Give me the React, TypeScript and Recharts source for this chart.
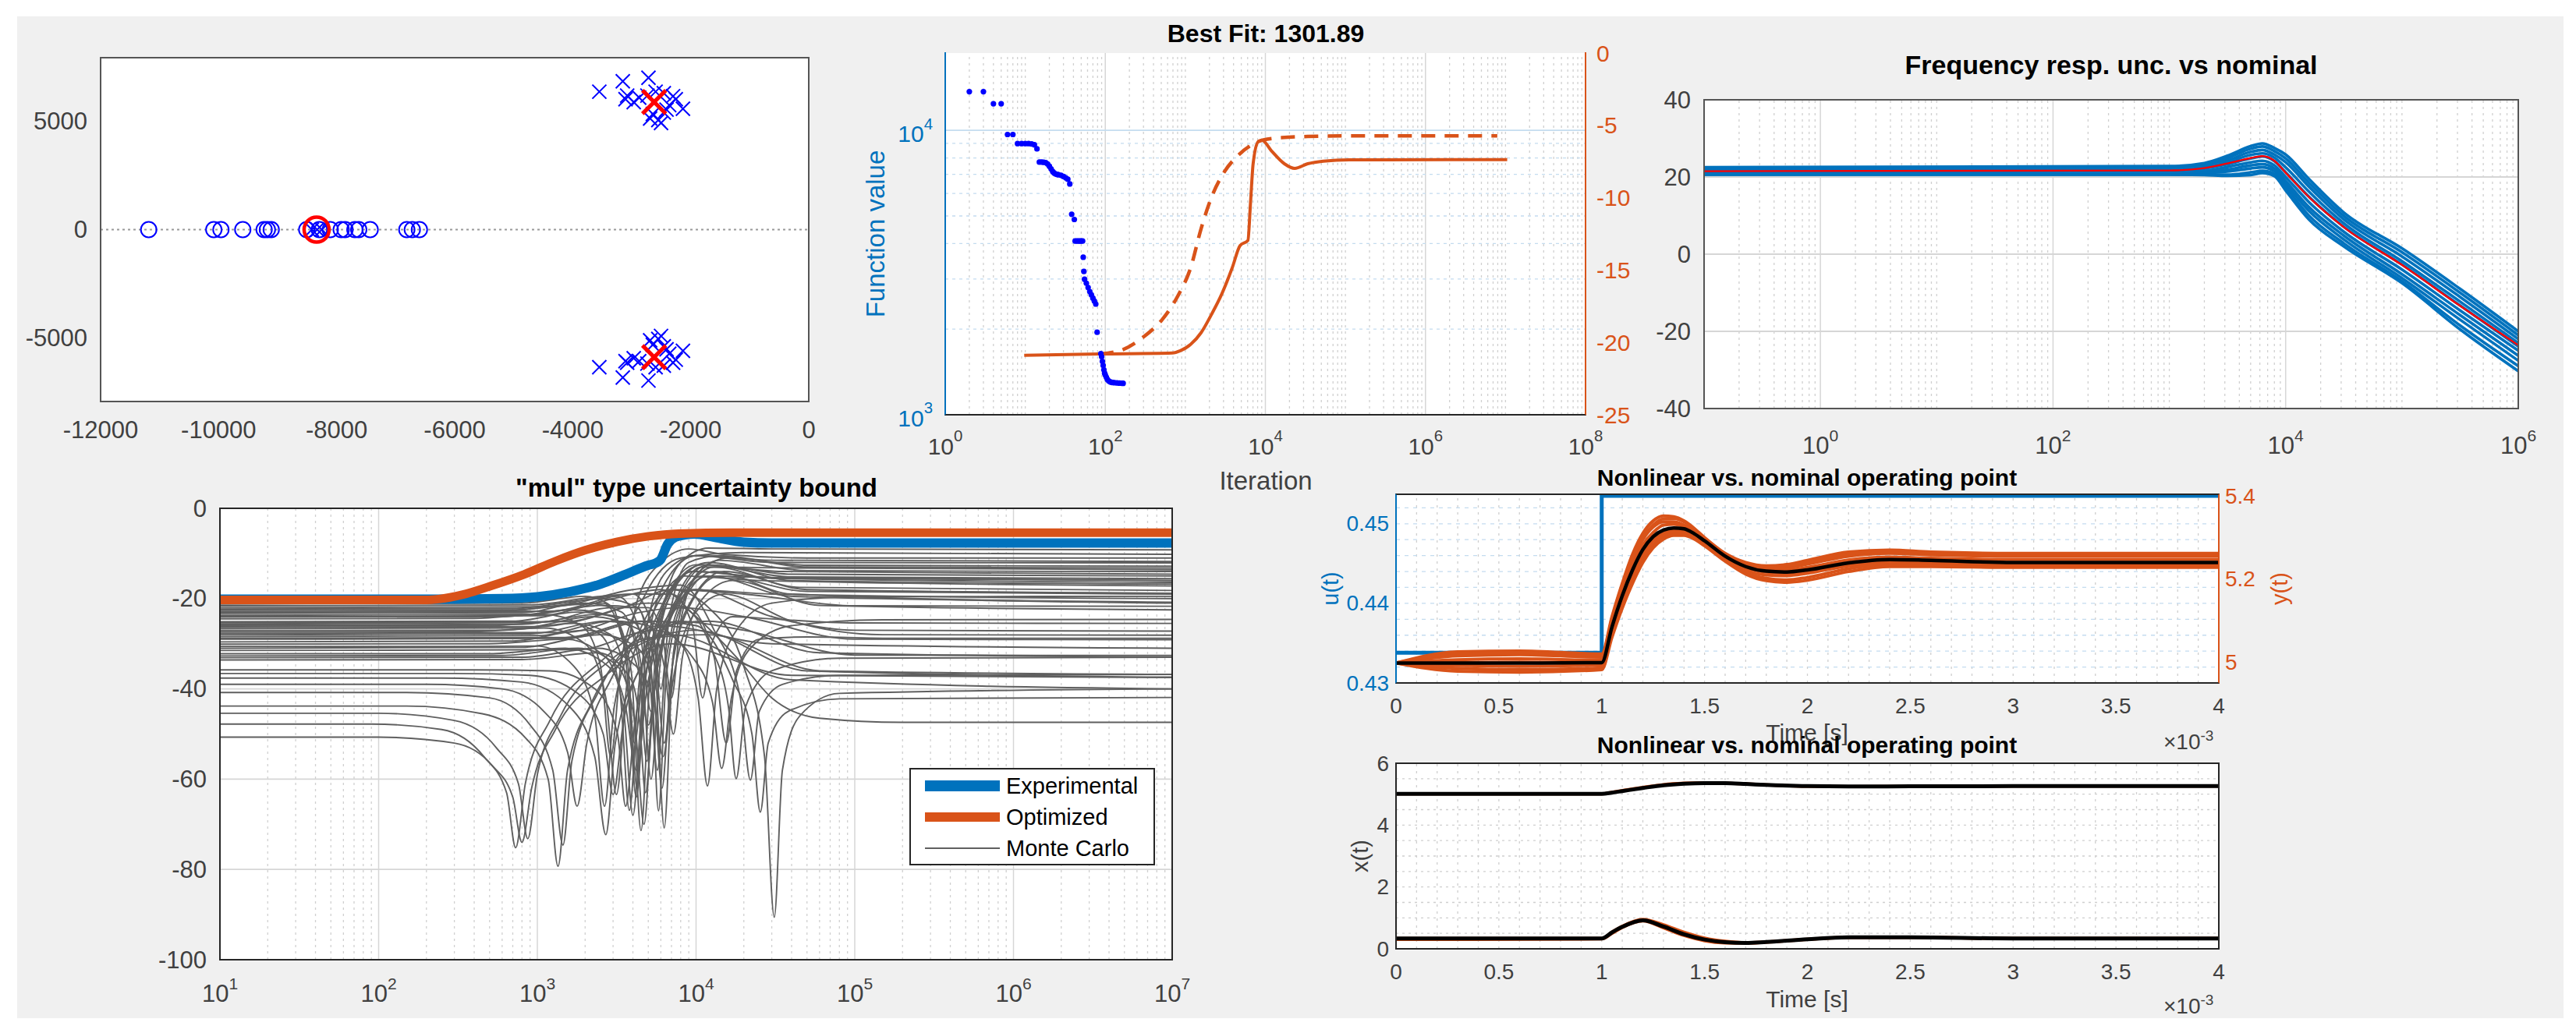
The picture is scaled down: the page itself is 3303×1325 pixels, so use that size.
import React from 'react';
import { ComposedChart, Line, Scatter, XAxis, YAxis, ReferenceLine } from 'recharts';

const FONT = '"Liberation Sans", Arial, Helvetica, sans-serif';
const MBLUE = '#0072BD';
const MORANGE = '#D95319';
const AXC = '#404040';
const GMAJ = '#d6d6d6';
const GMIN = '#d0d0d0';
const GBLUE = '#c4dcef';
const MCGRAY = '#5f5f5f';

// ================= Panel 1: pole / zero map =================
const pzZeroRe = [-11185, -10082, -9961, -9591, -9229, -9174, -9109, -8507, -8294, -8108, -7923, -7858, -7691, -7626, -7432, -6811, -6718, -6598];
const pzRealPoles = [-8420, -8330, -8250];
const pzPolesUpper = [
  [-3549, 6376], [-3151, 6858], [-2716, 7023], [-3077, 6197], [-2966, 5894], [-3105, 6032], [-2734, 6197],
  [-2688, 5137], [-2549, 5068], [-2503, 4930], [-2456, 5412], [-2364, 5756], [-2299, 6169], [-2132, 5591],
  [-2456, 6307], [-2595, 6376], [-2410, 5549], [-2873, 6100], [-2642, 5343], [-2253, 6031],
];
const pzPolesLower = [
  [-3549, -6362], [-3151, -6844], [-2716, -6981], [-3077, -6155], [-2966, -5949], [-3105, -6086], [-2734, -6197],
  [-2688, -5122], [-2549, -5054], [-2503, -4916], [-2456, -5398], [-2364, -5742], [-2299, -6155], [-2132, -5604],
  [-2456, -6293], [-2595, -6362], [-2410, -5535], [-2873, -6086], [-2642, -5329], [-2253, -6018],
];
const pzNominalPoles = [[-2620, 5900], [-2620, -5900]];
const pzNominalZero = [[-8340, 0]];
const pzXTicks = [-12000, -10000, -8000, -6000, -4000, -2000, 0];
const pzYTicks = [-5000, 0, 5000];

// ================= Panel 2: Best fit =================
const fitDots = [
  [2, 13680], [3, 13680], [4, 12400], [5, 12400], [6, 9670], [7, 9670], [8, 8980], [9, 8980], [10, 8980], [11, 8980],
  [12, 8960], [13, 8900], [14, 8610], [15, 7730], [16, 7730], [17, 7720], [18, 7700], [19, 7620], [20, 7480], [21, 7320],
  [22, 7170], [23, 7080], [24, 7020], [25, 7000], [26, 6980], [28, 6950], [30, 6880], [32, 6810], [34, 6730], [36, 6480],
  [38, 5070], [41, 4860], [42, 4080], [44, 4080], [46, 4080], [48, 4080], [50, 4080], [52, 4080], [53, 3580], [54, 3190],
  [55, 2995], [58, 2900], [61, 2800], [64, 2710], [67, 2640], [70, 2570], [73, 2510], [76, 2450], [79, 1950], [88, 1640],
  [90, 1600], [92, 1540], [94, 1490], [96, 1440], [98, 1400], [100, 1380], [103, 1355], [106, 1331], [110, 1315], [115, 1305],
  [120, 1300], [124, 1298], [130, 1296], [140, 1294], [150, 1292], [160, 1291], [167, 1290],
];
const fitSolid = [
  [9.7, -20.89], [85, -20.8], [690, -20.73], [865, -20.58], [1170, -20.13], [1573, -19.33], [2120, -18.07], [2865, -16.63],
  [3860, -14.83], [4830, -13.31], [6050, -12.95], [6520, -10.35], [7030, -7.65], [8160, -6.12], [9120, -6.03], [11860, -6.75],
  [17250, -7.65], [23240, -7.97], [33800, -7.65], [53000, -7.47], [112000, -7.38], [1.05e7, -7.37],
];
const fitDashed = [
  [85, -20.8], [167, -20.49], [303, -19.6], [512, -18.43], [802, -16.81], [1167, -14.83], [1573, -12.14], [2120, -9.98],
  [3090, -8.19], [4490, -7.11], [6520, -6.4], [9480, -6.0], [16000, -5.85], [33800, -5.77], [112000, -5.73], [7.9e6, -5.73],
];
const fitXTicks = [1, 100, 1e4, 1e6, 1e8];
const fitYLTicks = [1000, 10000];
const fitYRTicks = [-25, -20, -15, -10, -5, 0];

// ================= Panel 3: Frequency response =================
const frFreq = [0.1, 1000, 2000, 3160, 5000, 6300, 8000, 10000, 15850, 31620, 1e5, 3.162e5, 1e6];
const frNominal = [21.5, 21.7, 22.3, 23.5, 24.9, 25.4, 24.2, 21.1, 14.8, 7.0, -2.8, -13.4, -23.6];
const frSamples = [
  [22.5, 22.8, 23.6, 25.5, 28.0, 28.7, 27.5, 25.8, 19.5, 10.8, 1.5, -9.0, -20.0],
  [22.2, 22.5, 23.2, 24.9, 27.3, 27.9, 26.7, 24.8, 18.5, 9.9, 0.5, -10.0, -21.0],
  [22.0, 22.2, 22.8, 24.3, 26.5, 27.0, 25.8, 23.8, 17.5, 9.0, -0.6, -11.1, -22.0],
  [21.8, 22.0, 22.5, 23.8, 25.7, 26.1, 25.0, 22.5, 16.2, 8.0, -1.8, -12.3, -23.0],
  [21.5, 21.7, 22.2, 23.3, 24.8, 25.3, 24.1, 21.2, 14.9, 7.1, -2.7, -13.3, -23.9],
  [21.3, 21.4, 21.6, 22.6, 23.8, 24.2, 23.0, 20.0, 13.5, 5.8, -4.0, -14.6, -25.0],
  [21.0, 21.1, 21.3, 21.9, 23.0, 23.3, 22.2, 19.0, 12.2, 4.8, -5.2, -15.8, -26.3],
  [20.8, 20.9, 21.0, 21.4, 22.2, 22.5, 21.5, 18.2, 11.2, 3.8, -6.2, -17.0, -27.6],
  [20.6, 20.6, 20.6, 20.6, 21.2, 21.6, 20.8, 17.4, 10.0, 2.8, -7.0, -18.5, -29.0],
  [20.6, 20.6, 20.5, 20.3, 20.5, 21.0, 20.2, 16.5, 9.0, 2.0, -7.5, -19.5, -30.3],
];
const frXTicks = [1, 100, 1e4, 1e6];
const frYTicks = [-40, -20, 0, 20, 40];

// ================= Panel 4: "mul" uncertainty bound =================
const mulExperimental = [
  [10, -20.1], [300, -20.1], [600, -20.0], [1000, -19.6], [1600, -18.5], [2500, -16.8], [3500, -14.8], [5000, -12.6],
  [5600, -12.1], [6000, -11.3], [6600, -8.0], [7400, -6.4], [8500, -5.9], [9800, -5.7], [13000, -6.4], [20000, -7.5],
  [30000, -7.7], [1e7, -7.7],
];
const mulOptimized = [
  [10, -20.3], [200, -20.3], [240, -20.1], [340, -19.1], [520, -17.1], [830, -14.6], [1300, -11.7], [2000, -9.3],
  [3200, -7.4], [5000, -6.2], [7800, -5.6], [17000, -5.4], [1e7, -5.4],
];
const mulMonteCarlo = [
  [[10, -21.2], [800, -21.0], [2000, -19.5], [3000, -22], [3600, -30], [4300, -20], [6000, -12], [9000, -9], [15000, -10.2], [50000, -11], [1e7, -11]],
  [[10, -22.3], [700, -22.2], [1800, -20.5], [3200, -19.5], [4400, -27], [5200, -45], [6000, -25], [8000, -12], [12000, -8.8], [30000, -9], [1e7, -9.2]],
  [[10, -22.9], [600, -22.8], [1500, -21.5], [2600, -21], [3500, -30], [4100, -52], [4800, -28], [6500, -14], [10000, -10.5], [30000, -12], [1e7, -12.1]],
  [[10, -23.7], [900, -23.5], [2500, -21.5], [4200, -22], [5500, -35], [6300, -70.8], [7200, -32], [9500, -16], [14000, -11.5], [50000, -13.8], [1e7, -14]],
  [[10, -24.5], [400, -24.4], [1100, -23.5], [1900, -26], [2500, -35], [2900, -55], [3400, -33], [4800, -19], [8000, -11], [20000, -9.8], [1e7, -10.2]],
  [[10, -25.1], [700, -25], [1800, -23], [3000, -24], [3900, -36], [4500, -71.4], [5200, -34], [7000, -18], [11000, -12.5], [40000, -15.2], [1e7, -15.6]],
  [[10, -25.6], [1000, -25.3], [3000, -22], [5000, -22], [6200, -29], [7000, -42], [8000, -25], [10500, -14], [16000, -11], [50000, -12.6], [1e7, -12.8]],
  [[10, -26.1], [500, -26], [1400, -25], [2500, -28], [3300, -40], [3800, -66.9], [4400, -38], [6000, -22], [9500, -14], [30000, -15.5], [1e7, -16.4]],
  [[10, -26.7], [800, -26.5], [2200, -24], [3800, -26], [4600, -37], [5200, -60], [6000, -33], [8000, -19], [12000, -12.5], [40000, -14.6], [1e7, -15]],
  [[10, -27.4], [400, -27.3], [1100, -26.5], [2000, -30], [2700, -42], [3150, -63.4], [3700, -38], [5200, -24], [8500, -15], [25000, -16], [1e7, -17.2]],
  [[10, -28], [900, -27.8], [2700, -25], [4500, -27], [5600, -36], [6300, -52], [7200, -33], [9500, -20], [15000, -14], [50000, -18], [1e7, -18.8]],
  [[10, -28.8], [1500, -28.6], [4500, -25], [8000, -30], [10300, -42], [11800, -61.5], [13500, -40], [18000, -27], [30000, -21], [1e5, -19.6], [1e7, -19.5]],
  [[10, -29.6], [700, -29.4], [2000, -27], [3600, -30], [4400, -37], [5000, -48], [5800, -33], [7800, -21], [12000, -15], [40000, -19.5], [1e7, -20.8]],
  [[10, -30.6], [350, -30.6], [1000, -30.5], [1700, -35], [2300, -46], [2650, -66], [3050, -44], [4300, -28], [7000, -18], [20000, -19], [1e5, -21.6], [1e7, -21.7]],
  [[10, -31.5], [1800, -31.3], [5500, -27], [9500, -33], [12700, -43], [14500, -57.6], [16700, -42], [22000, -31], [40000, -26], [1.5e5, -24.7], [1e7, -24.6]],
  [[10, -32.2], [500, -32.2], [1500, -31], [2800, -35], [3600, -44], [4200, -58], [4900, -40], [6600, -25], [10000, -18], [30000, -24], [1e5, -27], [1e7, -27.2]],
  [[10, -33.1], [800, -33], [2400, -31], [4200, -35], [5400, -43], [6200, -55], [7100, -39], [9500, -24], [15000, -19], [40000, -25], [1.5e5, -28], [1e7, -28.1]],
  [[10, -36.6], [300, -36.6], [900, -37], [1800, -41], [2600, -50], [3000, -63.4], [3500, -47], [5000, -32], [8000, -22], [20000, -24], [1e5, -29], [1e7, -29.1]],
  [[10, -37.6], [250, -37.6], [800, -38.5], [1600, -44], [2300, -55], [2700, -72.3], [3100, -52], [4500, -35], [7500, -25], [20000, -27], [1e5, -32.5], [1e7, -32.6]],
  [[10, -39], [200, -39], [600, -40], [1100, -45], [1550, -54], [1780, -66], [2050, -52], [2900, -38], [5000, -27], [12000, -25], [60000, -32], [1e7, -33]],
  [[10, -40.8], [150, -40.8], [500, -42], [900, -48], [1250, -58], [1450, -74.6], [1650, -56], [2400, -41], [4500, -29], [12000, -28], [60000, -36], [1e7, -36.8]],
  [[10, -43.8], [150, -43.8], [450, -45.5], [850, -51], [1170, -60], [1350, -79.3], [1550, -58], [2200, -43], [4000, -31], [10000, -27], [50000, -36], [1e7, -37.4]],
  [[10, -45.4], [100, -45.4], [300, -47], [550, -53], [760, -61], [870, -73.2], [1000, -59], [1400, -46], [2800, -34], [7000, -28], [40000, -38], [1e7, -40]],
  [[10, -47.8], [90, -47.8], [250, -49], [460, -55], [640, -63], [730, -75.2], [840, -61], [1200, -47], [2500, -34], [6000, -26], [30000, -30], [1e7, -31]],
  [[10, -50.7], [100, -50.7], [300, -52], [520, -57], [700, -64], [800, -74], [920, -62], [1300, -49], [2700, -37], [7000, -30], [40000, -37], [1e7, -37.5]],
  [[10, -26.4], [1000, -26.2], [3500, -22], [7000, -18], [12000, -22], [20000, -35], [27000, -55], [31100, -90.6], [35000, -58], [45000, -46], [80000, -41], [1e7, -40]],
  [[10, -24], [1000, -23.8], [3000, -20], [6000, -18], [10000, -24], [18000, -33], [30000, -42], [60000, -46.5], [2e5, -47.4], [1e7, -47.4]],
  [[10, -29], [1500, -28.8], [5000, -25], [10000, -26], [17000, -38], [22500, -50], [25400, -67.3], [28500, -52], [38000, -45], [80000, -42.2], [1e7, -41.9]],
  [[10, -22], [1200, -21.8], [4000, -18], [8000, -17], [13000, -27], [19000, -42], [22000, -60.2], [25000, -45], [35000, -39], [80000, -37], [1e7, -36.8]],
  [[10, -27.7], [1500, -27.5], [4500, -23], [8000, -22], [12500, -31], [16000, -44], [17900, -59.9], [20500, -44], [30000, -36], [80000, -33.2], [1e7, -33]],
  [[10, -33.6], [800, -33.5], [2400, -32], [3900, -38], [4400, -47], [4800, -63], [5400, -42], [7000, -24], [11000, -15], [40000, -15.5], [1e7, -16]],
  [[10, -23.3], [800, -23.1], [2500, -20], [4300, -22], [5200, -35], [5800, -67], [6500, -37], [8500, -20], [13000, -14], [40000, -19], [1e7, -21]],
  [[10, -21.6], [900, -21.4], [2500, -19.5], [4000, -19], [5300, -26], [6000, -40], [6800, -24], [9000, -12], [14000, -10.5], [50000, -13], [1e7, -13.2]],
  [[10, -22.6], [700, -22.5], [2000, -21], [3400, -23], [4300, -33], [4900, -56], [5600, -32], [7500, -17], [12000, -12], [40000, -16], [1e7, -16.8]],
  [[10, -24.1], [600, -24], [1700, -22.5], [3000, -24], [3700, -34], [4250, -62], [4800, -33], [6500, -16], [10000, -10.5], [30000, -11.5], [1e7, -11.8]],
  [[10, -25.9], [800, -25.7], [2400, -23.5], [4000, -25], [5000, -34], [5700, -58], [6400, -35], [8500, -19], [13000, -13], [45000, -17.5], [1e7, -18.2]],
  [[10, -27.1], [600, -27], [1700, -25.5], [2900, -28], [3700, -40], [4200, -64], [4800, -38], [6500, -20], [10000, -12.5], [35000, -14], [1e7, -14.6]],
  [[10, -28.4], [1000, -28.2], [3000, -25], [5000, -26], [6300, -35], [7200, -50], [8200, -33], [11000, -20], [17000, -16], [60000, -21.5], [1e7, -22.5]],
  [[10, -30.1], [500, -30], [1500, -29], [2700, -33], [3500, -45], [4000, -68], [4600, -42], [6200, -23], [9500, -14], [30000, -15.3], [1e7, -16]],
  [[10, -31], [800, -30.8], [2500, -28], [4300, -31], [5400, -40], [6100, -62], [6900, -38], [9000, -22], [14000, -15], [50000, -18.4], [1e7, -19]],
  [[10, -32.7], [600, -32.6], [1800, -31], [3200, -35], [4100, -47], [4700, -70], [5300, -45], [7000, -23], [11000, -13], [35000, -13.2], [1e7, -13.6]],
  [[10, -23], [1200, -22.8], [4000, -19], [7000, -19], [9500, -26], [11000, -42], [12500, -30], [17000, -24], [30000, -24.5], [1e5, -25.4], [1e7, -25.5]],
  [[10, -25.3], [1500, -25.1], [5000, -21], [9000, -22], [13000, -33], [15500, -52], [18000, -36], [25000, -29], [50000, -28.5], [2e5, -28.8], [1e7, -28.8]],
  [[10, -35.8], [400, -35.8], [1200, -36], [2300, -40], [3200, -50], [3600, -66], [4100, -48], [5800, -29], [9000, -18], [30000, -19], [1e7, -20]],
];
const mulXTicks = [10, 100, 1000, 1e4, 1e5, 1e6, 1e7];
const mulYTicks = [-100, -80, -60, -40, -20, 0];

// ================= Panel 5: u(t), y(t) =================
const uSignal = [[0, 0.4338], [1, 0.4338], [1, 0.4535], [4, 0.4535]];
const yTime = [0, 0.3, 0.6, 1.0, 1.05, 1.1, 1.15, 1.2, 1.25, 1.3, 1.35, 1.4, 1.45, 1.5, 1.6, 1.7, 1.8, 1.9, 2.0, 2.2, 2.4, 2.6, 3.0, 3.5, 4.0];
const yNominal = [4.998, 4.998, 4.998, 4.999, 5.085, 5.16, 5.222, 5.271, 5.302, 5.318, 5.323, 5.321, 5.309, 5.292, 5.255, 5.23, 5.219, 5.217, 5.222, 5.239, 5.247, 5.245, 5.24, 5.24, 5.24];
const ySamples = [
  [4.998, 5.025, 5.027, 5.02, 5.11, 5.19, 5.26, 5.31, 5.34, 5.352, 5.35, 5.34, 5.322, 5.30, 5.262, 5.24, 5.232, 5.235, 5.245, 5.265, 5.27, 5.265, 5.262, 5.262, 5.262],
  [4.998, 5.015, 5.018, 5.012, 5.10, 5.18, 5.245, 5.295, 5.325, 5.338, 5.338, 5.33, 5.315, 5.295, 5.258, 5.236, 5.228, 5.228, 5.236, 5.255, 5.262, 5.258, 5.255, 5.255, 5.255],
  [4.998, 5.006, 5.008, 5.005, 5.09, 5.17, 5.232, 5.282, 5.312, 5.33, 5.332, 5.327, 5.313, 5.294, 5.256, 5.232, 5.222, 5.222, 5.228, 5.246, 5.253, 5.25, 5.247, 5.247, 5.247],
  [4.998, 4.992, 4.99, 4.993, 5.08, 5.15, 5.21, 5.26, 5.292, 5.31, 5.316, 5.314, 5.303, 5.286, 5.248, 5.222, 5.21, 5.208, 5.214, 5.232, 5.24, 5.238, 5.234, 5.234, 5.234],
  [4.998, 4.985, 4.982, 4.986, 5.07, 5.14, 5.2, 5.25, 5.283, 5.303, 5.31, 5.309, 5.299, 5.283, 5.245, 5.216, 5.202, 5.198, 5.204, 5.225, 5.235, 5.234, 5.23, 5.23, 5.23],
  [4.998, 4.978, 4.976, 4.982, 5.06, 5.13, 5.19, 5.24, 5.275, 5.296, 5.305, 5.305, 5.296, 5.28, 5.243, 5.212, 5.196, 5.192, 5.197, 5.218, 5.23, 5.23, 5.228, 5.228, 5.228],
  [4.998, 5.02, 5.022, 5.016, 5.105, 5.185, 5.25, 5.3, 5.33, 5.345, 5.346, 5.338, 5.32, 5.298, 5.26, 5.238, 5.23, 5.232, 5.24, 5.26, 5.266, 5.262, 5.258, 5.258, 5.258],
  [4.998, 4.999, 5.0, 4.998, 5.083, 5.158, 5.22, 5.268, 5.3, 5.317, 5.32, 5.318, 5.307, 5.29, 5.253, 5.228, 5.217, 5.214, 5.219, 5.236, 5.244, 5.242, 5.237, 5.237, 5.237],
];
const timeTicks = [0, 0.5, 1, 1.5, 2, 2.5, 3, 3.5, 4];
const uTicks = [0.43, 0.44, 0.45];
const yTicks = [5, 5.2, 5.4];

// ================= Panel 6: x(t) =================
const xTime = [0, 1.0, 1.05, 1.1, 1.2, 1.3, 1.4, 1.5, 1.6, 1.7, 1.8, 2.0, 2.2, 2.5, 3.0, 4.0];
const x1Nominal = [5.01, 5.01, 5.05, 5.1, 5.2, 5.29, 5.34, 5.36, 5.355, 5.33, 5.3, 5.26, 5.25, 5.255, 5.26, 5.26];
const x2Nominal = [0.334, 0.334, 0.53, 0.71, 0.92, 0.72, 0.47, 0.3, 0.215, 0.19, 0.222, 0.31, 0.37, 0.37, 0.335, 0.334];
const xSamples = [
  [0.334, 0.334, 0.54, 0.73, 0.95, 0.78, 0.54, 0.35, 0.245, 0.2, 0.225, 0.31, 0.372, 0.37, 0.336, 0.334],
  [0.3, 0.32, 0.5, 0.69, 0.9, 0.68, 0.43, 0.26, 0.19, 0.18, 0.215, 0.305, 0.365, 0.37, 0.335, 0.334],
  [5.01, 5.01, 5.06, 5.12, 5.22, 5.31, 5.355, 5.37, 5.36, 5.335, 5.3, 5.255, 5.245, 5.25, 5.26, 5.26],
];
const xTicks6 = [0, 2, 4, 6];

// ================= helpers =================
const toXY = (pairs: number[][]) => pairs.map(([x, y]) => ({ x, y }));
const zip = (xs: number[], ys: number[]) => xs.map((x, i) => ({ x, y: ys[i] }));
const logMinor = (k0: number, k1: number) => {
  const out: number[] = [];
  for (let k = k0; k < k1; k++) for (let m = 2; m <= 9; m++) out.push(m * Math.pow(10, k));
  return out;
};
const steps = (a: number, b: number, s: number) => {
  const out: number[] = [];
  for (let i = 0; a + i * s <= b + 1e-9; i++) out.push(+(a + i * s).toFixed(6));
  return out;
};

const xNumTick = (dist: number, size: number, color: string) => (p: any) => (
  <text x={p.x} y={p.y + dist} textAnchor="middle" dominantBaseline="central" fontSize={size} fill={color} fontFamily={FONT}>
    {String(p.payload.value)}
  </text>
);
const xPowTick = (dist: number, size: number, color: string) => (p: any) => {
  const e = Math.round(Math.log10(p.payload.value));
  return (
    <text x={p.x} y={p.y + dist} textAnchor="middle" dominantBaseline="central" fontSize={size} fill={color} fontFamily={FONT}>
      10<tspan dy={-size * 0.42} fontSize={size * 0.68}>{e}</tspan>
    </text>
  );
};
const yNumTickL = (gap: number, size: number, color: string) => (p: any) => (
  <text x={p.x - gap} y={p.y} textAnchor="end" dominantBaseline="central" fontSize={size} fill={color} fontFamily={FONT}>
    {String(p.payload.value)}
  </text>
);
const yNumTickR = (gap: number, size: number, color: string) => (p: any) => (
  <text x={p.x + gap} y={p.y} textAnchor="start" dominantBaseline="central" fontSize={size} fill={color} fontFamily={FONT}>
    {String(p.payload.value)}
  </text>
);
const yPowTickL = (gap: number, size: number, color: string) => (p: any) => {
  const e = Math.round(Math.log10(p.payload.value));
  return (
    <text x={p.x - gap} y={p.y + 4} textAnchor="end" dominantBaseline="central" fontSize={size} fill={color} fontFamily={FONT}>
      10<tspan dy={-size * 0.42} fontSize={size * 0.68}>{e}</tspan>
    </text>
  );
};

const circleShape = (r: number, color: string, sw: number, filled = false) => (p: any) => (
  <circle cx={p.cx} cy={p.cy} r={r} fill={filled ? color : 'none'} stroke={color} strokeWidth={sw} />
);
const crossShape = (h: number, color: string, sw: number) => (p: any) => (
  <path d={`M${p.cx - h},${p.cy - h}L${p.cx + h},${p.cy + h}M${p.cx - h},${p.cy + h}L${p.cx + h},${p.cy - h}`} stroke={color} strokeWidth={sw} fill="none" />
);

type Box = { x0: number; y0: number; x1: number; y1: number };
const B1: Box = { x0: 129, y0: 74, x1: 1037, y1: 515 };
const B2: Box = { x0: 1212, y0: 68, x1: 2033, y1: 532 };
const B3: Box = { x0: 2185, y0: 128, x1: 3229, y1: 524 };
const B4: Box = { x0: 282, y0: 652, x1: 1503, y1: 1231 };
const B5: Box = { x0: 1790, y0: 634, x1: 2845, y1: 876 };
const B6: Box = { x0: 1790, y0: 979, x1: 2845, y1: 1217 };

const PT = 25;
const wrap = (b: Box, padL: number): React.CSSProperties => ({ position: 'absolute', left: b.x0 - padL, top: b.y0 - PT });
const W = (b: Box) => b.x1 - b.x0;
const H = (b: Box) => b.y1 - b.y0;

const Txt = ({ x, y, size, bold, color = '#000', rotate, children }: any) => (
  <div
    style={{
      position: 'absolute', left: x, top: y, transform: `translate(-50%,-50%)${rotate ? ` rotate(${rotate}deg)` : ''}`,
      fontSize: size, fontWeight: bold ? 700 : 400, color, fontFamily: FONT, whiteSpace: 'nowrap', lineHeight: 1,
    }}
  >
    {children}
  </div>
);

const axisCommon = { tickLine: false, axisLine: false, tickSize: 0, tickMargin: 0, interval: 0 as const, allowDataOverflow: true };

function Frame({ b, top, right, bottom, left, w = 2 }: { b: Box; top?: string; right: string; bottom: string; left: string; w?: number }) {
  return (
    <div
      style={{
        position: 'absolute', left: b.x0 - w / 2, top: b.y0 - w / 2, width: W(b) + w, height: H(b) + w, boxSizing: 'border-box',
        borderLeft: `${w}px solid ${left}`, borderRight: `${w}px solid ${right}`, borderBottom: `${w}px solid ${bottom}`,
        borderTop: top ? `${w}px solid ${top}` : 'none', pointerEvents: 'none',
      }}
    />
  );
}

export default function App() {
  const g2MajX = [1, 100, 1e4, 1e6, 1e8];
  const g2MinX = [...logMinor(0, 8), 10, 1000, 1e5, 1e7];
  const g2MinY = logMinor(3, 4);
  const g3MajX = [1, 100, 1e4];
  const g3MinX = [...logMinor(-1, 6), 10, 1000, 1e5];
  const g4MajX = [100, 1000, 1e4, 1e5, 1e6];
  const g4MinX = logMinor(1, 7);
  const g56X = steps(0.1, 3.9, 0.1);
  const g5Y = steps(0.432, 0.452, 0.002);
  const g6Y = steps(0.5, 5.5, 0.5);

  const P1PL = 110, P1PR = 50;
  const P2PL = 110, P2PR = 80;
  const P3PL = 100, P3PR = 60;
  const P4PL = 100, P4PR = 50;
  const P5PL = 90, P5PR = 70;
  const P6PL = 90, P6PR = 40;

  const lineProps = { dot: false, activeDot: false, isAnimationActive: false } as const;

  return (
    <div style={{ position: 'absolute', left: 0, top: 0, width: 3303, height: 1325, background: '#ffffff', overflow: 'hidden', fontFamily: FONT }}>
      <div style={{ position: 'absolute', left: 22, top: 21, width: 3265, height: 1285, background: '#f0f0f0' }} />
      {[B1, B2, B3, B4, B5, B6].map((b, i) => (
        <div key={'wb' + i} style={{ position: 'absolute', left: b.x0, top: b.y0, width: W(b), height: H(b), background: '#ffffff' }} />
      ))}

      {/* ---------- Panel 1 ---------- */}
      <div style={wrap(B1, P1PL)}>
        <ComposedChart width={W(B1) + P1PL + P1PR} height={H(B1) + PT + 70} margin={{ top: PT, right: P1PR, bottom: 0, left: 0 }}>
          <XAxis type="number" dataKey="x" domain={[-12000, 0]} ticks={pzXTicks} height={70} tick={xNumTick(36, 31, AXC)} {...axisCommon} />
          <YAxis type="number" dataKey="y" domain={[-7950, 7950]} ticks={pzYTicks} width={P1PL} tick={yNumTickL(17, 31, AXC)} {...axisCommon} />
          <ReferenceLine y={0} stroke="#9a9a9a" strokeDasharray="3 4" strokeWidth={2} />
          <ReferenceLine x={0} stroke="#9a9a9a" strokeDasharray="3 4" strokeWidth={2} />
          <Scatter name="zeros" data={pzZeroRe.map((x) => ({ x, y: 0 }))} dataKey="y" shape={circleShape(10, '#0000FF', 2)} isAnimationActive={false} />
          <Scatter name="realpoles" data={pzRealPoles.map((x) => ({ x, y: 0 }))} dataKey="y" shape={crossShape(9, '#0000FF', 2)} isAnimationActive={false} />
          <Scatter name="polesU" data={toXY(pzPolesUpper)} dataKey="y" shape={crossShape(9, '#0000FF', 2)} isAnimationActive={false} />
          <Scatter name="polesL" data={toXY(pzPolesLower)} dataKey="y" shape={crossShape(9, '#0000FF', 2)} isAnimationActive={false} />
          <Scatter name="nomP" data={toXY(pzNominalPoles)} dataKey="y" shape={crossShape(15, '#FF0000', 5)} isAnimationActive={false} />
          <Scatter name="nomZ" data={toXY(pzNominalZero)} dataKey="y" shape={circleShape(16, '#FF0000', 4.5)} isAnimationActive={false} />
        </ComposedChart>
      </div>

      {/* ---------- Panel 2 ---------- */}
      <div style={wrap(B2, P2PL)}>
        <ComposedChart width={W(B2) + P2PL + P2PR} height={H(B2) + PT + 70} margin={{ top: PT, right: 0, bottom: 0, left: 0 }}>
          <XAxis type="number" dataKey="x" scale="log" domain={[1, 1e8]} ticks={fitXTicks} height={70} tick={xPowTick(40, 30, AXC)} {...axisCommon} />
          <YAxis yAxisId="l" type="number" dataKey="y" scale="log" domain={[1000, 18700]} ticks={fitYLTicks} width={P2PL} tick={yPowTickL(16, 30, MBLUE)} {...axisCommon} />
          <YAxis yAxisId="r" orientation="right" type="number" dataKey="y" domain={[-25, 0]} ticks={fitYRTicks} width={P2PR} tick={yNumTickR(14, 30, MORANGE)} {...axisCommon} />
          {g2MinX.map((v) => <ReferenceLine key={'a' + v} yAxisId="l" x={v} stroke={GMIN} strokeDasharray="3 5" strokeWidth={1.3} />)}
          {g2MajX.map((v) => <ReferenceLine key={'b' + v} yAxisId="l" x={v} stroke={GMAJ} strokeWidth={1.5} />)}
          {g2MinY.map((v) => <ReferenceLine key={'c' + v} yAxisId="l" y={v} stroke={GBLUE} strokeDasharray="4 5" strokeWidth={1.3} />)}
          <ReferenceLine yAxisId="l" y={10000} stroke={GBLUE} strokeWidth={1.6} />
          <Line yAxisId="r" data={toXY(fitDashed)} dataKey="y" type="monotone" stroke={MORANGE} strokeWidth={4.5} strokeDasharray="18 12" {...lineProps} />
          <Line yAxisId="r" data={toXY(fitSolid)} dataKey="y" type="monotone" stroke={MORANGE} strokeWidth={4} {...lineProps} />
          <Scatter yAxisId="l" data={toXY(fitDots)} dataKey="y" shape={circleShape(3.6, '#0000FF', 0, true)} isAnimationActive={false} />
        </ComposedChart>
      </div>

      {/* ---------- Panel 3 ---------- */}
      <div style={wrap(B3, P3PL)}>
        <ComposedChart width={W(B3) + P3PL + P3PR} height={H(B3) + PT + 80} margin={{ top: PT, right: P3PR, bottom: 0, left: 0 }}>
          <XAxis type="number" dataKey="x" scale="log" domain={[0.1, 1e6]} ticks={frXTicks} height={80} tick={xPowTick(47, 31, AXC)} {...axisCommon} />
          <YAxis type="number" dataKey="y" domain={[-40, 40]} ticks={frYTicks} width={P3PL} tick={yNumTickL(17, 31, AXC)} {...axisCommon} />
          {g3MinX.map((v) => <ReferenceLine key={'a' + v} x={v} stroke={GMIN} strokeDasharray="3 5" strokeWidth={1.3} />)}
          {g3MajX.map((v) => <ReferenceLine key={'b' + v} x={v} stroke={GMAJ} strokeWidth={1.5} />)}
          {[-20, 0, 20].map((v) => <ReferenceLine key={'c' + v} y={v} stroke={GMAJ} strokeWidth={1.8} />)}
          {frSamples.map((s, i) => (
            <Line key={'fs' + i} data={zip(frFreq, s)} dataKey="y" type="monotone" stroke={MBLUE} strokeWidth={3.6} {...lineProps} />
          ))}
          <Line data={zip(frFreq, frNominal)} dataKey="y" type="monotone" stroke="#FF0000" strokeWidth={2.4} {...lineProps} />
        </ComposedChart>
      </div>

      {/* ---------- Panel 4 ---------- */}
      <div style={wrap(B4, P4PL)}>
        <ComposedChart width={W(B4) + P4PL + P4PR} height={H(B4) + PT + 80} margin={{ top: PT, right: P4PR, bottom: 0, left: 0 }}>
          <XAxis type="number" dataKey="x" scale="log" domain={[10, 1e7]} ticks={mulXTicks} height={80} tick={xPowTick(43, 31, AXC)} {...axisCommon} />
          <YAxis type="number" dataKey="y" domain={[-100, 0]} ticks={mulYTicks} width={P4PL} tick={yNumTickL(17, 31, AXC)} {...axisCommon} />
          {g4MinX.map((v) => <ReferenceLine key={'a' + v} x={v} stroke={GMIN} strokeDasharray="3 5" strokeWidth={1.3} />)}
          {g4MajX.map((v) => <ReferenceLine key={'b' + v} x={v} stroke={GMAJ} strokeWidth={1.5} />)}
          {[-80, -60, -40, -20].map((v) => <ReferenceLine key={'c' + v} y={v} stroke={GMAJ} strokeWidth={1.8} />)}
          {mulMonteCarlo.map((c, i) => (
            <Line key={'mc' + i} data={toXY(c)} dataKey="y" type="monotone" stroke={MCGRAY} strokeWidth={1.9} {...lineProps} />
          ))}
          <Line data={toXY(mulExperimental)} dataKey="y" type="monotone" stroke={MBLUE} strokeWidth={12} {...lineProps} />
          <Line data={toXY(mulOptimized)} dataKey="y" type="monotone" stroke={MORANGE} strokeWidth={11} {...lineProps} />
        </ComposedChart>
      </div>

      {/* ---------- Panel 5 ---------- */}
      <div style={wrap(B5, P5PL)}>
        <ComposedChart width={W(B5) + P5PL + P5PR} height={H(B5) + PT + 50} margin={{ top: PT, right: 0, bottom: 0, left: 0 }}>
          <XAxis type="number" dataKey="x" domain={[0, 4]} ticks={timeTicks} height={50} tick={xNumTick(29, 28, AXC)} {...axisCommon} />
          <YAxis yAxisId="l" type="number" dataKey="y" domain={[0.43, 0.4537]} ticks={uTicks} width={P5PL} tick={yNumTickL(9, 28, MBLUE)} {...axisCommon} />
          <YAxis yAxisId="r" orientation="right" type="number" dataKey="y" domain={[4.95, 5.404]} ticks={yTicks} width={P5PR} tick={yNumTickR(8, 28, MORANGE)} {...axisCommon} />
          {g56X.map((v) => <ReferenceLine key={'a' + v} yAxisId="l" x={v} stroke="#cfcfcf" strokeDasharray="3 6" strokeWidth={1.3} />)}
          {g5Y.map((v) => <ReferenceLine key={'b' + v} yAxisId="l" y={v} stroke={GBLUE} strokeDasharray="5 6" strokeWidth={1.3} />)}
          <Line yAxisId="l" data={toXY(uSignal)} dataKey="y" type="linear" stroke={MBLUE} strokeWidth={5} {...lineProps} />
          {ySamples.map((s, i) => (
            <Line key={'ys' + i} yAxisId="r" data={zip(yTime, s)} dataKey="y" type="monotone" stroke={MORANGE} strokeWidth={4} {...lineProps} />
          ))}
          <Line yAxisId="r" data={zip(yTime, yNominal)} dataKey="y" type="monotone" stroke="#000000" strokeWidth={4.5} {...lineProps} />
        </ComposedChart>
      </div>

      {/* ---------- Panel 6 ---------- */}
      <div style={wrap(B6, P6PL)}>
        <ComposedChart width={W(B6) + P6PL + P6PR} height={H(B6) + PT + 50} margin={{ top: PT, right: P6PR, bottom: 0, left: 0 }}>
          <XAxis type="number" dataKey="x" domain={[0, 4]} ticks={timeTicks} height={50} tick={xNumTick(29, 28, AXC)} {...axisCommon} />
          <YAxis type="number" dataKey="y" domain={[0, 6]} ticks={xTicks6} width={P6PL} tick={yNumTickL(9, 28, AXC)} {...axisCommon} />
          {g56X.map((v) => <ReferenceLine key={'a' + v} x={v} stroke="#cfcfcf" strokeDasharray="3 6" strokeWidth={1.3} />)}
          {g6Y.map((v) => <ReferenceLine key={'b' + v} y={v} stroke="#cfcfcf" strokeDasharray="3 5" strokeWidth={1.3} />)}
          {xSamples.map((s, i) => (
            <Line key={'xs' + i} data={zip(xTime, s)} dataKey="y" type="monotone" stroke={MORANGE} strokeWidth={4} {...lineProps} />
          ))}
          <Line data={zip(xTime, x1Nominal)} dataKey="y" type="monotone" stroke="#000000" strokeWidth={5} {...lineProps} />
          <Line data={zip(xTime, x2Nominal)} dataKey="y" type="monotone" stroke="#000000" strokeWidth={5} {...lineProps} />
        </ComposedChart>
      </div>

      {/* ---------- frames ---------- */}
      <Frame b={B1} top="#555" right="#555" bottom="#555" left="#555" />
      <Frame b={B2} right={MORANGE} bottom="#262626" left={MBLUE} />
      <Frame b={B3} top="#555" right="#555" bottom="#555" left="#555" />
      <Frame b={B4} top="#262626" right="#262626" bottom="#262626" left="#262626" />
      <Frame b={B5} top="#262626" right={MORANGE} bottom="#262626" left={MBLUE} />
      <Frame b={B6} top="#262626" right="#262626" bottom="#262626" left="#262626" />

      {/* ---------- legend for panel 4 ---------- */}
      <div style={{ position: 'absolute', left: 1166, top: 985, width: 315, height: 125, boxSizing: 'border-box', border: '2px solid #262626', background: '#ffffff' }} />
      <div style={{ position: 'absolute', left: 1186, top: 1008 - 7, width: 96, height: 14, background: MBLUE }} />
      <div style={{ position: 'absolute', left: 1186, top: 1048 - 6, width: 96, height: 12, background: MORANGE }} />
      <div style={{ position: 'absolute', left: 1186, top: 1088 - 1, width: 96, height: 2, background: MCGRAY }} />
      <div style={{ position: 'absolute', left: 1290, top: 1008, transform: 'translateY(-50%)', fontSize: 29, lineHeight: 1, color: '#000' }}>Experimental</div>
      <div style={{ position: 'absolute', left: 1290, top: 1048, transform: 'translateY(-50%)', fontSize: 29, lineHeight: 1, color: '#000' }}>Optimized</div>
      <div style={{ position: 'absolute', left: 1290, top: 1088, transform: 'translateY(-50%)', fontSize: 29, lineHeight: 1, color: '#000' }}>Monte Carlo</div>

      {/* ---------- titles & labels ---------- */}
      <Txt x={1623} y={43} size={32} bold>Best Fit: 1301.89</Txt>
      <Txt x={1623} y={616} size={33} color={AXC}>Iteration</Txt>
      <Txt x={1122} y={300} size={33} color={MBLUE} rotate={-90}>Function value</Txt>

      <Txt x={2707} y={83} size={34} bold>Frequency resp. unc. vs nominal</Txt>

      <Txt x={893} y={625} size={33} bold>"mul" type uncertainty bound</Txt>

      <Txt x={2317} y={613} size={30} bold>Nonlinear vs. nominal operating point</Txt>
      <Txt x={2317} y={940} size={30} color={AXC}>Time [s]</Txt>
      <div style={{ position: 'absolute', left: 2774, top: 950, transform: 'translateY(-50%)', fontSize: 28, lineHeight: 1, color: AXC }}>×10<sup style={{ fontSize: 19 }}>-3</sup></div>
      <Txt x={1706} y={755} size={29} color={MBLUE} rotate={-90}>u(t)</Txt>
      <Txt x={2923} y={755} size={29} color={MORANGE} rotate={-90}>y(t)</Txt>

      <Txt x={2317} y={956} size={30} bold>Nonlinear vs. nominal operating point</Txt>
      <Txt x={2317} y={1282} size={30} color={AXC}>Time [s]</Txt>
      <div style={{ position: 'absolute', left: 2774, top: 1289, transform: 'translateY(-50%)', fontSize: 28, lineHeight: 1, color: AXC }}>×10<sup style={{ fontSize: 19 }}>-3</sup></div>
      <Txt x={1744} y={1098} size={29} color={AXC} rotate={-90}>x(t)</Txt>
    </div>
  );
}
